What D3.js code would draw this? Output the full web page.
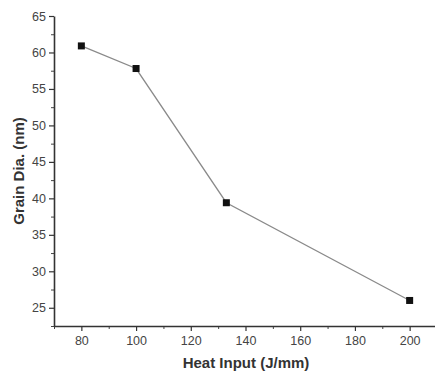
<!DOCTYPE html>
<html><head><meta charset="utf-8">
<script src="https://cdn.jsdelivr.net/npm/d3@7"></script>
<style>body{margin:0;background:#fff}svg{display:block}</style>
</head><body>
<svg id="c" width="435" height="376"></svg>
<script>
const heatInput = [80, 100, 133, 200];
const grainDia = [60.9, 57.8, 39.4, 26.0];
const xTicks = [80, 100, 120, 140, 160, 180, 200];
const yTicks = [25, 30, 35, 40, 45, 50, 55, 60, 65];
const xLabel = "Heat Input (J/mm)";
const yLabel = "Grain Dia. (nm)";

const svg = d3.select("#c");
const x = d3.scaleLinear().domain([70, 210]).range([54, 437]);
const y = d3.scaleLinear().domain([22.5, 65]).range([326, 16]);

const xMinor = d3.range(70, 211, 10).filter(v => !xTicks.includes(v) && v < 210);
const yMinor = d3.range(22.5, 65, 2.5).filter(v => !yTicks.includes(v));

const font = "Arial, 'Liberation Sans', sans-serif";

// minor ticks
svg.append("g").attr("transform", `translate(0,${y(22.5)})`)
  .call(d3.axisBottom(x).tickValues(xMinor).tickSize(3).tickFormat(""))
  .call(g => g.select(".domain").remove())
  .selectAll("line").attr("stroke", "#444");
svg.append("g").attr("transform", `translate(${x(70)},0)`)
  .call(d3.axisLeft(y).tickValues(yMinor).tickSize(3).tickFormat(""))
  .call(g => g.select(".domain").remove())
  .selectAll("line").attr("stroke", "#444");

const gx = svg.append("g").attr("transform", `translate(0,${y(22.5)})`)
  .call(d3.axisBottom(x).tickValues(xTicks).tickSize(5).tickSizeOuter(0).tickPadding(5).tickFormat(d3.format("d")));
const gy = svg.append("g").attr("transform", `translate(${x(70)},0)`)
  .call(d3.axisLeft(y).tickValues(yTicks).tickSize(5).tickSizeOuter(0).tickPadding(3).tickFormat(d3.format("d")));

[gx, gy].forEach(g => {
  g.select(".domain").attr("stroke", "#333").attr("stroke-width", 1.6);
  g.selectAll(".tick line").attr("stroke", "#333").attr("stroke-width", 1.2);
  g.selectAll("text").attr("font-family", font).attr("font-size", 12.5).attr("fill", "#444");
});

const pts = heatInput.map((h, i) => [h, grainDia[i]]);
svg.append("path").datum(pts)
  .attr("d", d3.line().x(d => x(d[0])).y(d => y(d[1])))
  .attr("fill", "none").attr("stroke", "#8a8a8a").attr("stroke-width", 1.3);

svg.append("g").selectAll("rect").data(pts).join("rect")
  .attr("x", d => x(d[0]) - 3.5).attr("y", d => y(d[1]) - 3.5)
  .attr("width", 7).attr("height", 7).attr("fill", "#111");

svg.append("text").attr("x", 246).attr("y", 368).attr("text-anchor", "middle")
  .attr("font-family", font).attr("font-weight", "bold").attr("font-size", 15).attr("fill", "#333")
  .text(xLabel);
svg.append("text").attr("transform", "translate(24,171) rotate(-90)").attr("text-anchor", "middle")
  .attr("font-family", font).attr("font-weight", "bold").attr("font-size", 15).attr("fill", "#333")
  .text(yLabel);
</script>
</body></html>
